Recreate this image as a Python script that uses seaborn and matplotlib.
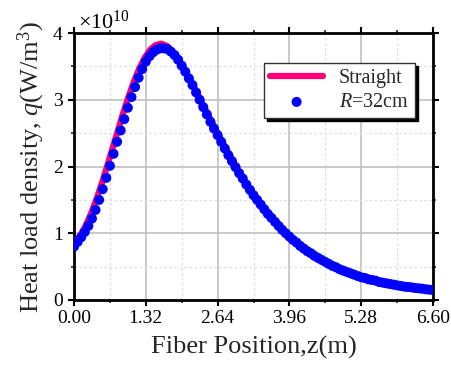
import numpy as np
import pandas as pd
import matplotlib
matplotlib.use("Agg")
import matplotlib.pyplot as plt
import seaborn as sns
from matplotlib.ticker import AutoMinorLocator, ScalarFormatter

# ---- data (q in units of 1e10 W/m^3) ----
straight_z = [0.0, 0.1, 0.2, 0.3, 0.4, 0.5, 0.6, 0.7, 0.8, 0.9, 1.0, 1.1, 1.2, 1.3,
              1.4, 1.5, 1.6, 1.7, 1.8, 1.9, 2.0, 2.1, 2.2, 2.3, 2.4, 2.5, 2.6,
              2.8, 3.0, 3.2, 3.4, 3.6, 3.8, 4.0, 4.2, 4.4, 4.6, 4.8, 5.0, 5.2, 5.4,
              5.6, 5.8, 6.0, 6.2, 6.4, 6.6]
straight_q = [0.83, 0.95, 1.09, 1.27, 1.48, 1.72, 1.98, 2.25, 2.52, 2.79, 3.04, 3.27,
              3.47, 3.63, 3.75, 3.82, 3.84, 3.81, 3.73, 3.62, 3.49, 3.35, 3.20, 3.04,
              2.88, 2.72, 2.56, 2.26, 1.97, 1.70, 1.46, 1.26, 1.07, 0.91, 0.78, 0.66,
              0.57, 0.48, 0.41, 0.35, 0.30, 0.26, 0.23, 0.20, 0.18, 0.16, 0.15]

curved_z = [0.000, 0.066, 0.132, 0.198, 0.264, 0.330, 0.396, 0.462, 0.528, 0.594,
            0.660, 0.726, 0.792, 0.858, 0.924, 0.990, 1.056, 1.122, 1.188, 1.254,
            1.320, 1.386, 1.452, 1.518, 1.584, 1.650, 1.716, 1.782, 1.848, 1.914,
            1.980, 2.046, 2.112, 2.178, 2.244, 2.310, 2.376, 2.442, 2.508, 2.574,
            2.640, 2.706, 2.772, 2.838, 2.904, 2.970, 3.036, 3.102, 3.168, 3.234,
            3.300, 3.366, 3.432, 3.498, 3.564, 3.630, 3.696, 3.762, 3.828, 3.894,
            3.960, 4.026, 4.092, 4.158, 4.224, 4.290, 4.356, 4.422, 4.488, 4.554,
            4.620, 4.686, 4.752, 4.818, 4.884, 4.950, 5.016, 5.082, 5.148, 5.214,
            5.280, 5.346, 5.412, 5.478, 5.544, 5.610, 5.676, 5.742, 5.808, 5.874,
            5.940, 6.006, 6.072, 6.138, 6.204, 6.270, 6.336, 6.402, 6.468, 6.534,
            6.600]
curved_q = [0.80, 0.87, 0.94, 1.02, 1.11, 1.22, 1.35, 1.50, 1.66, 1.83,
            2.01, 2.19, 2.37, 2.54, 2.71, 2.88, 3.04, 3.19, 3.33, 3.46,
            3.57, 3.65, 3.71, 3.75, 3.77, 3.77, 3.76, 3.72, 3.67, 3.60,
            3.51, 3.42, 3.32, 3.22, 3.11, 3.00, 2.89, 2.78, 2.67, 2.57,
            2.47, 2.37, 2.27, 2.17, 2.08, 1.99, 1.90, 1.82, 1.73, 1.65,
            1.57, 1.50, 1.43, 1.36, 1.29, 1.23, 1.17, 1.11, 1.05, 1.00,
            0.95, 0.90, 0.86, 0.81, 0.77, 0.73, 0.70, 0.66, 0.63, 0.60,
            0.57, 0.54, 0.51, 0.49, 0.46, 0.44, 0.42, 0.40, 0.38, 0.36,
            0.34, 0.33, 0.31, 0.30, 0.29, 0.27, 0.26, 0.25, 0.24, 0.23,
            0.22, 0.21, 0.20, 0.195, 0.19, 0.18, 0.175, 0.17, 0.16, 0.155,
            0.15]

x_ticks = [0.00, 1.32, 2.64, 3.96, 5.28, 6.60]
x_ticklabels = ["0.00", "1.32", "2.64", "3.96", "5.28", "6.60"]
y_ticks = [0, 1, 2, 3, 4]
scale = 1e10

df_s = pd.DataFrame({"z": straight_z, "q": np.array(straight_q) * scale})
df_c = pd.DataFrame({"z": curved_z, "q": np.array(curved_q) * scale})

sns.set_style("ticks")
plt.rcParams["font.family"] = ["Liberation Serif", "DejaVu Serif"]
plt.rcParams["mathtext.fontset"] = "custom"
plt.rcParams["mathtext.rm"] = "Liberation Serif"
plt.rcParams["mathtext.it"] = "Liberation Serif:italic"
plt.rcParams["mathtext.bf"] = "Liberation Serif:bold"

fig = plt.figure(figsize=(4.51, 3.70), dpi=100)
ax = fig.add_axes([74/451, 1 - 300/370, (433-74)/451, (300-33)/370])

sns.lineplot(data=df_s, x="z", y="q", ax=ax, color="#FF0077", lw=4.5,
             label="Straight", zorder=3)
sns.scatterplot(data=df_c, x="z", y="q", ax=ax, color="#0000FF", s=52,
                edgecolor="none", label="$\\mathit{R}$=32cm", zorder=4)

ax.set_xlim(0, 6.6)
ax.set_ylim(0, 4 * scale)
ax.set_xticks(x_ticks)
ax.set_xticklabels(x_ticklabels)
ax.set_yticks([v * scale for v in y_ticks])
fmt = ScalarFormatter(useMathText=True)
fmt.set_powerlimits((0, 0))
ax.yaxis.set_major_formatter(fmt)
ax.yaxis.get_offset_text().set_fontsize(16)
ax.yaxis.get_offset_text().set_x(0.01)
ax.xaxis.set_minor_locator(AutoMinorLocator(2))
ax.yaxis.set_minor_locator(AutoMinorLocator(2))

ax.grid(True, which="major", color="#c0c0c0", lw=1.2, ls="-", zorder=0)
ax.grid(True, which="minor", color="#dddddd", lw=0.9, ls=(0, (2, 2)), zorder=0)
ax.set_axisbelow(True)

for sp in ax.spines.values():
    sp.set_visible(True)
    sp.set_linewidth(2.0)
    sp.set_color("black")

ax.tick_params(axis="both", which="major", labelsize=14, width=1.5, length=4,
               color="black", labelcolor="black")
ax.tick_params(axis="both", which="minor", width=1.2, length=2)
ax.tick_params(axis="x", which="both", direction="out", top=True)
ax.tick_params(axis="y", which="both", direction="out", right=True)

ax.set_xlabel("Fiber Position,z(m)", fontsize=19, labelpad=6)
ax.set_ylabel("Heat load density, $\\mathit{q}$(W/m$^3$)", fontsize=19, labelpad=4)

leg = ax.legend(loc="upper right", bbox_to_anchor=(0.950, 0.888), borderaxespad=0,
                fontsize=14.5, frameon=True, fancybox=False,
                shadow={"color": "black", "alpha": 1.0},
                handlelength=2.6, handletextpad=0.8, borderpad=0.3,
                labelspacing=0.25, markerscale=1.0)
leg.get_frame().set_edgecolor("#333333")
leg.get_frame().set_linewidth(1.0)
leg.get_frame().set_alpha(1.0)

fig.savefig("out.png", dpi=100)
